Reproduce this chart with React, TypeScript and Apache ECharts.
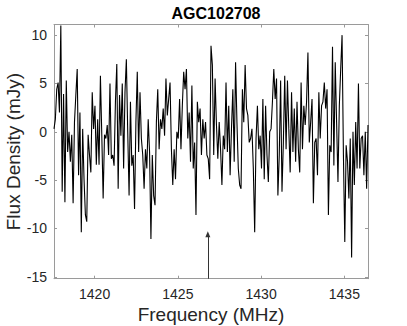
import React, { useEffect, useRef } from "react";
import * as echarts from "echarts";

const title = "AGC102708";
const xName = "Frequency (MHz)";
const yName = "Flux Density (mJy)";

const freqStart = 1417.56;
const freqEnd = 1436.42;

const xTicks = [1420, 1425, 1430, 1435];
const yTicks = [-15, -10, -5, 0, 5, 10];

const flux1 = [0.3, 1.3, 4.4, 5.1, 2, 11, -6.2, 3.9, -7.3, 5.3, -2.1, 0, -3.1, -0.3, -7.4, 1, 3.8, 6.5, -4.5, 2, -10.4, 0.3, -4.9, -8.6, -9.3, -0.3, -2.4, -4.2, 4.1, 0.3, 2.7, -3.4, 1.3, -3.4, 5.8, -0.3, -6.9, -0.3, -0.7, 0.7, -2.4, 5, -2.8];
const flux2 = [-2.4, -3.5, 3.1, 7.0, -5.9, 3.8, -0.4, 5.0, -3.8, 4.1, 7.5, 0, -6.6, 3.1, -3.5, -2.4, -8.0, 1.0, 6.2, -2.1, 4.1, -0.7, -2.4, -5.9, -1.8, -3.8, 1.3, -2.1, -11.1, -2.4, -6.6, -7.6, 1.0, 4.4, -1.8, 1.3, 0.3, 2.4, -0.4, 5.5, 1.7, 3.4, 5.1, -1.8, -5.5, -1.8];
const flux3 = [-4.9, 0, -0.7, 3.4, -1.8, 2.7, 6.2, 4.4, 6.5, -0.7, 2, -3.1, 4.8, -3.8, -1.1, -8.6, 3.1, 1.0, 2.4, -2.4, 1.3, -0.7, 1.0, -2.4, -2.8, -4.9, 8.9, 6.9, -2.4, 5.5, 0.7, -2.8, 1.0, -1.8, -5.5, -0.4, -1.8, 5.1, -2.1, 2.7, -4.5, 0.3, 4.4, -3.1, 7.2, 1.0, -3.8, -5.5];
const flux4 = [-5.9, 4.4, 1.0, 6.9, 2.4, 1.7, -1.1, -0.7, 0.3, -3.8, -10.4, -0.7, 2.7, -1.8, -0.4, -3.8, 3.4, -4.9, 2.7, -2.4, -5.2, 0, 0.3, 3.1, 6.5, 3.4, 5.5, -6.6, -2.4, 5.3, -6.2, -1.1, 5.8, -1.8, 5.3, 0.3, -4.2, 4.1, -2.1, 2.4, -3.1, 3.1, -1.8, -4.2, 5.1];
const flux5 = [-1.8, 2.7, 0.7, 3.1, 8.2, -1.1, 1.0, 3.4, -7.4, -1.1, -0.7, -4.5, 4.1, -0.7, 2.7, 3.1, 5.1, 2.4, 4.4, -8.6, -1.4, -2.1, 8.8, -3.5, 7.2, 1.0, -5.2, 2.7, 6.5, 10.0, -2.4, -11.4, -1.4, -3.1, -6.9, -0.7, -13.0, 0, -5.5, 1.0, -3.8, 5.0, -3.8, -0.7, -0.4, -4.5, 0, -5.9, 0.7];

const flux = [...flux1, ...flux2, ...flux3, ...flux4, ...flux5];

const arrowFreq = 1426.8;
const arrowFrom = -15.2;
const arrowTo = -10.6;

const yMin = -15.2;
const yMax = 11.1;

export default function App() {
  const ref = useRef<HTMLDivElement>(null);
  useEffect(() => {
    if (!ref.current) return;
    const chart = echarts.init(ref.current, null, { renderer: "svg" });
    const step = (freqEnd - freqStart) / (flux.length - 1);
    const data = flux.map((v, i) => [freqStart + i * step, v]);
    const axisColor = "#9a9a9a";
    const labelColor = "#262626";
    const font = "Liberation Sans, Helvetica, Arial, sans-serif";
    const tick = (vals: number[]) => ({
      show: true,
      inside: true,
      length: 3,
      lineStyle: { color: axisColor },
      customValues: vals,
    });
    const line = { show: true, onZero: false, lineStyle: { color: axisColor, width: 1 } };
    const fmt = (v: number) => String(v);
    chart.setOption({
      animation: false,
      title: {
        text: title,
        left: 211,
        top: 0,
        textAlign: "center",
        textStyle: { fontFamily: font, fontSize: 16, fontWeight: "bold", color: "#000" },
      },
      grid: { left: 54, right: 39, top: 24.5, bottom: 47.3, outerBoundsMode: "none", containLabel: false },
      xAxis: [
        {
          type: "value",
          position: "bottom",
          min: freqStart,
          max: freqEnd,
          name: xName,
          nameLocation: "middle",
          nameGap: 26,
          nameMoveOverlap: false,
          nameTextStyle: { fontFamily: font, fontSize: 19, color: labelColor },
          axisLine: line,
          axisTick: tick(xTicks),
          splitLine: { show: false },
          axisLabel: { customValues: xTicks, formatter: fmt, fontFamily: font, fontSize: 14, color: labelColor, margin: 8 },
        },
        {
          type: "value",
          position: "top",
          min: freqStart,
          max: freqEnd,
          axisLine: line,
          axisTick: tick(xTicks),
          splitLine: { show: false },
          axisLabel: { show: false },
        },
      ],
      yAxis: [
        {
          type: "value",
          position: "left",
          min: yMin,
          max: yMax,
          name: yName,
          nameLocation: "middle",
          nameGap: 31,
          nameMoveOverlap: false,
          nameTextStyle: { fontFamily: font, fontSize: 19, color: labelColor },
          axisLine: line,
          axisTick: tick(yTicks),
          splitLine: { show: false },
          axisLabel: { customValues: yTicks, formatter: fmt, fontFamily: font, fontSize: 14, color: labelColor, margin: 7 },
        },
        {
          type: "value",
          position: "right",
          min: yMin,
          max: yMax,
          axisLine: line,
          axisTick: tick(yTicks),
          splitLine: { show: false },
          axisLabel: { show: false },
        },
      ],
      series: [
        {
          type: "line",
          data,
          xAxisIndex: 0,
          yAxisIndex: 0,
          showSymbol: false,
          symbol: "none",
          lineStyle: { color: "#000", width: 1.1 },
          clip: true,
          markLine: {
            silent: true,
            symbol: ["none", "triangle"],
            symbolSize: [5, 6],
            label: { show: false },
            lineStyle: { color: "#333", width: 1, type: "solid" },
            data: [[{ coord: [arrowFreq, arrowFrom] }, { coord: [arrowFreq, arrowTo] }]],
          },
        },
      ],
    });
    return () => chart.dispose();
  }, []);
  return (
    <div
      ref={ref}
      style={{ position: "absolute", left: 0, top: 0, width: 407, height: 326 }}
    />
  );
}
